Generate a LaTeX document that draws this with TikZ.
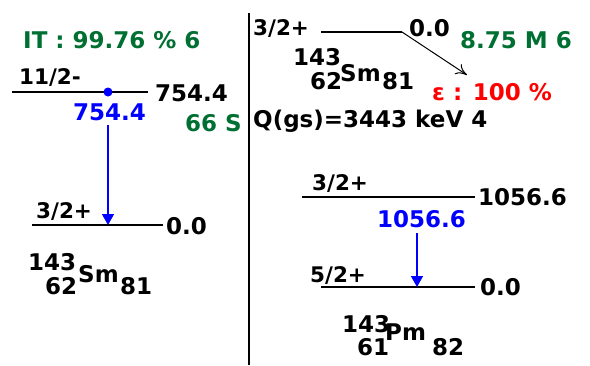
\documentclass[tikz,border=0pt]{standalone}
\usepackage{fontspec}
\setmainfont{DejaVu Sans}
\usepackage{tikz}
\usetikzlibrary{arrows.meta}

\definecolor{hlgreen}{RGB}{0,112,50}

\begin{document}
\begin{tikzpicture}[
    x=1pt, y=-1pt,
    font=\fontsize{23}{25}\selectfont\bfseries,
    lbl/.style={anchor=base west, inner sep=0pt},
    spin/.style={lbl, font=\fontsize{21.5}{23}\selectfont\bfseries},
    level/.style={line width=1.5pt},
    gamma/.style={-{Triangle[length=11pt, width=12pt]}, blue, line width=1.5pt},
    decay/.style={-{To[length=11pt, width=12pt]}, line width=1pt}
]
\useasboundingbox (0,0) rectangle (590,365);

% left panel: 143Sm isomer
\node[lbl, hlgreen] (itbr) at (23,48) {IT : 99.76 \% 6};
\coordinate (isoL) at (12,92);
\coordinate (isoR) at (148,92);
\draw[level] (isoL) -- (isoR);
\node[spin] (isospin) at (19,84) {11/2-};
\node[lbl] (isoen) at (155,101) {754.4};
\node[lbl, hlgreen] (isohl) at (185,131) {66 S};
\node[circle, fill=blue, inner sep=0pt, minimum size=9pt] (isodot) at (108,92) {};
\node[lbl, blue] (isog) at (73,120) {754.4};

\coordinate (gsL) at (32,225);
\coordinate (gsR) at (163,225);
\draw[level] (gsL) -- (gsR);
\coordinate (gsA) at (108,225);
\node[spin] (gsspin) at (36,218) {3/2+};
\node[lbl] (gsen) at (166,234) {0.0};
\draw[gamma] (isodot.south |- 0,125) -- (gsA);

\node[lbl] (smA) at (28,270) {143};
\node[lbl] (smZ) at (45,294) {62};
\node[lbl] (smX) at (78,282) {Sm};
\node[lbl] (smN) at (120,294) {81};

% divider
\coordinate (divT) at (249,13);
\coordinate (divB) at (249,365);
\draw[line width=1.6pt] (divT) -- (divB);

% right panel: 143Sm ground state
\node[spin] (parspin) at (253,35) {3/2+};
\coordinate (parL) at (321,32);
\coordinate (parR) at (402,32);
\draw[level] (parL) -- (parR);
\node[lbl] (paren) at (409,36) {0.0};
\node[lbl, hlgreen] (parhl) at (460,48) {8.75 M 6};
\coordinate (ecend) at (467,75);
\draw[decay] (parR) -- (ecend);
\node[lbl, red] (ecbr) at (432,100) {ε : 100 \%};

\node[lbl] (psmA) at (293,65) {143};
\node[lbl] (psmZ) at (310,89) {62};
\node[lbl] (psmX) at (340,81) {Sm};
\node[lbl] (psmN) at (382,89) {81};
\node[lbl] (qval) at (253,127) {Q(gs)=3443 keV 4};

% daughter 143Pm
\node[spin] (exspin) at (312,190) {3/2+};
\coordinate (exL) at (302,197);
\coordinate (exR) at (475,197);
\draw[level] (exL) -- (exR);
\node[lbl] (exen) at (478,205) {1056.6};
\node[lbl, blue] (exg) at (377,227) {1056.6};
\coordinate (exgT) at (417,233);

\node[spin] (dgsspin) at (310,282) {5/2+};
\coordinate (dgsL) at (321,287);
\coordinate (dgsR) at (475,287);
\draw[level] (dgsL) -- (dgsR);
\coordinate (dgsA) at (417,287);
\node[lbl] (dgsen) at (480,295) {0.0};
\draw[gamma] (exgT) -- (dgsA);

\node[lbl] (pmA) at (342,332) {143};
\node[lbl] (pmZ) at (357,355) {61};
\node[lbl] (pmX) at (385,340) {Pm};
\node[lbl] (pmN) at (432,355) {82};
\end{tikzpicture}
\end{document}
